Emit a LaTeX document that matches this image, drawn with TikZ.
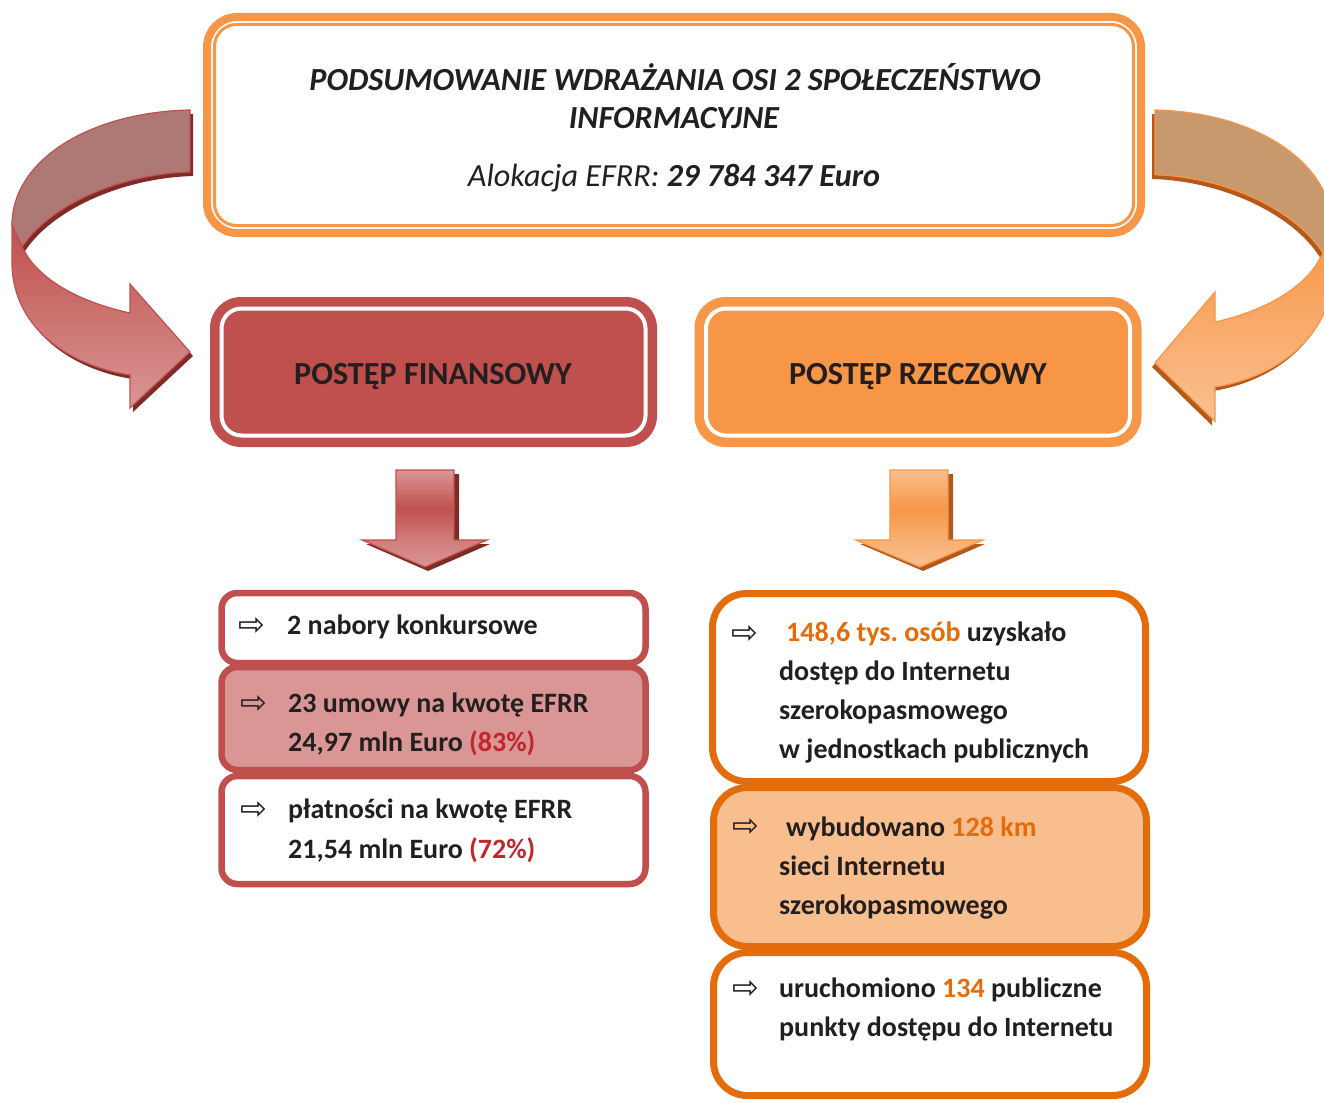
\documentclass[tikz,border=0pt]{standalone}
\usepackage{fontspec}
\setmainfont{Carlito}
\newfontfamily\symfont{DejaVu Sans}
\usetikzlibrary{calc}
\frenchspacing
\definecolor{redc}{HTML}{C0504D}
\definecolor{redl}{HTML}{D99694}
\definecolor{redm}{HTML}{D07B78}
\definecolor{redback}{HTML}{AE7874}
\definecolor{redsh}{HTML}{7E2B28}
\definecolor{orc}{HTML}{F79646}
\definecolor{orl}{HTML}{FAC090}
\definecolor{orm}{HTML}{F8AE72}
\definecolor{orback}{HTML}{C9996E}
\definecolor{orsh}{HTML}{B4591C}
\definecolor{ordark}{HTML}{E46C0A}
\definecolor{peach}{HTML}{F8BE8E}
\definecolor{txtd}{HTML}{231F20}
\definecolor{pct}{HTML}{C0272D}
\pgfdeclareverticalshading{redarrow}{100bp}{color(0bp)=(redl); color(25bp)=(redl); color(40bp)=(redm); color(55bp)=(redc); color(75bp)=(redl); color(100bp)=(redl)}
\pgfdeclareverticalshading{orarrow}{100bp}{color(0bp)=(orl); color(25bp)=(orl); color(40bp)=(orm); color(55bp)=(orc); color(75bp)=(orl); color(100bp)=(orl)}
\begin{document}
\begin{tikzpicture}[x=1pt,y=-1pt,
  txt/.style={anchor=base west, inner sep=0pt, text=txtd, font=\fontsize{28}{34}\selectfont\bfseries},
  ttl/.style={anchor=base, inner sep=0pt, text=txtd, font=\fontsize{32.2}{38}\selectfont\bfseries\itshape},
  sym/.style={anchor=base west, inner sep=0pt, text=txtd, font=\symfont\fontsize{32}{34}\selectfont},
  hdr/.style={inner sep=0pt, outer sep=0pt, rounded corners=30pt, line width=2pt, minimum width=445pt, minimum height=148pt},
  hdrtxt/.style={text=txtd, font=\fontsize{32.2}{38}\selectfont\bfseries, anchor=base, inner sep=0pt},
  rbox/.style={draw=redc, line width=6.5pt, rounded corners=16pt, inner sep=0pt, outer sep=0pt, minimum width=424pt},
  obox/.style={draw=ordark, line width=7pt, rounded corners=34pt, inner sep=0pt, outer sep=0pt, minimum width=433pt},
  blk/.style={line width=1.2pt, line join=miter}
]
\useasboundingbox (0,0) rectangle (1324,1102);

% ---------- top box
\node[draw=orc, line width=8pt, rounded corners=30pt, minimum width=934pt, minimum height=216pt,
      inner sep=0pt, outer sep=0pt] (top) at (674,125) {};
\draw[orc, line width=3pt, rounded corners=22pt]
  ([xshift=7.5pt,yshift=-7.5pt]top.north west) rectangle ([xshift=-7.5pt,yshift=7.5pt]top.south east);
\node[ttl] (t1) at (675,91) {PODSUMOWANIE WDRAŻANIA OSI 2 SPOŁECZEŃSTWO};
\node[ttl] (t2) at (674,129) {INFORMACYJNE};
\node[ttl] (t3) at (674,186) {{\mdseries Alokacja EFRR:} 29 784 347 Euro};

% ---------- header boxes
\node[hdr, draw=redc, fill=redc] (fin) at (433.5,372) {};
\draw[white, line width=4pt, rounded corners=20pt]
  ([xshift=10.5pt,yshift=-10.5pt]fin.north west) rectangle ([xshift=-10.5pt,yshift=10.5pt]fin.south east);
\node[hdrtxt] (finT) at (433,384) {POSTĘP FINANSOWY};

\node[hdr, draw=orc, fill=orc] (rze) at (918,372) {};
\draw[white, line width=4pt, rounded corners=20pt]
  ([xshift=10.5pt,yshift=-10.5pt]rze.north west) rectangle ([xshift=-10.5pt,yshift=10.5pt]rze.south east);
\node[hdrtxt] (rzeT) at (918,384) {POSTĘP RZECZOWY};

% ---------- left curved arrow
\begin{scope}
  \fill[redsh, shift={(3,4)}]
    (190,110) .. controls (90,112) and (12,160) .. (12,225) -- (12,265)
    .. controls (14,335) and (80,368) .. (130,375) -- (130,408) -- (190,352) -- (130,284) -- (130,313)
    .. controls (80,302) and (38,280) .. (22,247) .. controls (50,205) and (120,174) .. (190,172) -- cycle;
  \draw[blk, draw=redc, fill=redback]
    (190,110) .. controls (90,112) and (12,160) .. (12,225) -- (22,247)
    .. controls (50,205) and (120,174) .. (190,172) -- cycle;
  \draw[blk, draw=redc, top color=redc, bottom color=redl]
    (12,225) -- (12,265) .. controls (14,335) and (80,368) .. (130,375) -- (130,408) -- (190,352)
    -- (130,284) -- (130,313) .. controls (80,302) and (38,280) .. (22,247) -- cycle;
\end{scope}

% ---------- right curved arrow (mirror)
\begin{scope}[shift={(1345,-4.95)}, xscale=-1, yscale=1.045]
  \fill[orsh, shift={(3,4)}]
    (190,110) .. controls (90,112) and (12,160) .. (12,225) -- (12,265)
    .. controls (14,335) and (80,368) .. (130,375) -- (130,408) -- (190,352) -- (130,284) -- (130,313)
    .. controls (80,302) and (38,280) .. (22,247) .. controls (50,205) and (120,174) .. (190,172) -- cycle;
  \draw[blk, draw=orc, fill=orback]
    (190,110) .. controls (90,112) and (12,160) .. (12,225) -- (22,247)
    .. controls (50,205) and (120,174) .. (190,172) -- cycle;
  \draw[blk, draw=orc, top color=orc, bottom color=orl]
    (12,225) -- (12,265) .. controls (14,335) and (80,368) .. (130,375) -- (130,408) -- (190,352)
    -- (130,284) -- (130,313) .. controls (80,302) and (38,280) .. (22,247) -- cycle;
\end{scope}

% ---------- down arrows
\fill[redsh] (401,474) -- (459,474) -- (459,544) -- (490,544) -- (428,571) -- (366,544) -- (401,544) -- cycle;
\draw[blk, draw=redc, shading=redarrow]
  (396,470) -- (454,470) -- (454,540) -- (487,540) -- (425,567) -- (362,540) -- (396,540) -- cycle;
\fill[orsh] (895,474) -- (953,474) -- (953,544) -- (985,544) -- (923,571) -- (860,544) -- (895,544) -- cycle;
\draw[blk, draw=orc, shading=orarrow]
  (890,470) -- (948,470) -- (948,540) -- (983,540) -- (920,567) -- (856,540) -- (890,540) -- cycle;

% ---------- left small boxes
\node[rbox, fill=white, minimum height=70pt] (l1) at (433.5,628) {};
\node[rbox, fill=redl, minimum height=103pt] (l2) at (433.5,718.5) {};
\node[rbox, fill=white, minimum height=108pt] (l3) at (433.5,830) {};
\node[sym] (s1) at (238,635) {⇨};
\node[txt] (l1a) at (287,634) {2 nabory konkursowe};
\node[sym] (s2) at (240,713) {⇨};
\node[txt] (l2a) at (288,712) {23 umowy na kwotę EFRR};
\node[txt] (l2b) at (288,751) {24,97 mln Euro \textcolor{pct}{(83\%)}};
\node[sym] (s3) at (240,819) {⇨};
\node[txt] (l3a) at (288,818) {płatności na kwotę EFRR};
\node[txt] (l3b) at (288,858) {21,54 mln Euro \textcolor{pct}{(72\%)}};

% ---------- right small boxes
\node[obox, fill=white, minimum height=188pt] (r1) at (929,687.5) {};
\node[obox, fill=peach, minimum height=159pt] (r2) at (930,867) {};
\node[obox, fill=white, minimum height=143pt] (r3) at (930,1024) {};
\node[sym] (s4) at (731,643) {⇨};
\node[txt] (r1a) at (786,641) {\textcolor{ordark}{148,6 tys. osób} uzyskało};
\node[txt] (r1b) at (779,680) {dostęp do Internetu};
\node[txt] (r1c) at (779,719) {szerokopasmowego};
\node[txt] (r1d) at (779,758) {w jednostkach publicznych};
\node[sym] (s5) at (732,836) {⇨};
\node[txt] (r2a) at (786,836) {wybudowano \textcolor{ordark}{128 km}};
\node[txt] (r2b) at (779,875) {sieci Internetu};
\node[txt] (r2c) at (779,914) {szerokopasmowego};
\node[sym] (s6) at (732,998) {⇨};
\node[txt] (r3a) at (779,997) {uruchomiono \textcolor{ordark}{134} publiczne};
\node[txt] (r3b) at (779,1036) {punkty dostępu do Internetu};
\end{tikzpicture}
\end{document}
